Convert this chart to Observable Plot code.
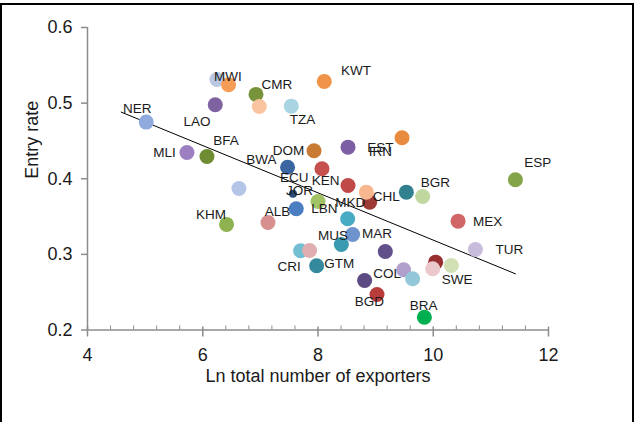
<!DOCTYPE html>
<html>
<head>
<meta charset="utf-8">
<script src="https://cdn.jsdelivr.net/npm/d3@7"></script>
<script src="https://cdn.jsdelivr.net/npm/@observablehq/plot@0.6"></script>
<style>
  html, body { margin: 0; padding: 0; background: #fff; width: 637px; height: 422px; overflow: hidden; }
  #frame { position: absolute; left: 0; top: 3px; width: 634px; height: 480px; border: 2px solid #000; box-sizing: border-box; }
  #chart { position: absolute; left: 0; top: 0; }
</style>
</head>
<body>
<div id="frame"></div>
<div id="chart"></div>
<script>
// Scatter points (ln total number of exporters, entry rate, colour)
const pointX = [6.246, 6.448, 6.924, 6.981, 6.217, 5.019, 5.726, 6.073, 6.628, 8.109,
                7.536, 9.458, 8.521, 7.931, 7.472, 8.069, 8.521, 8.896, 8.839, 9.533,
                9.816, 7.566, 8.000, 7.623, 6.413, 7.132, 8.514, 8.405, 8.601, 7.698,
                7.854, 7.976, 8.809, 9.168, 9.486, 9.642, 10.042, 9.990, 10.314, 10.731,
                9.024, 9.846, 11.426, 10.431];
const pointY = [0.5313, 0.5243, 0.5115, 0.4956, 0.4979, 0.4749, 0.4348, 0.4295, 0.3872, 0.5287,
                0.4960, 0.4542, 0.4418, 0.4370, 0.4153, 0.4132, 0.3911, 0.3690, 0.3823, 0.3823,
                0.3766, 0.3802, 0.3700, 0.3603, 0.3396, 0.3422, 0.3471, 0.3131, 0.3263, 0.3048,
                0.3052, 0.2849, 0.2655, 0.3038, 0.2796, 0.2677, 0.2897, 0.2810, 0.2853, 0.3065,
                0.2470, 0.2169, 0.3987, 0.3439];
const pointColor = ["#b9c7e2", "#f59d56", "#77933c", "#fbc4a0", "#7f62a0", "#8faadc", "#9b7fc0", "#6e8c31", "#b4c6e7", "#f0944a",
                    "#a9d4e2", "#e98b3f", "#7c5ea4", "#c97a33", "#3b65a0", "#c5504e", "#bf4a47", "#9e3a36", "#f9b78f", "#31808f",
                    "#c1d7a0", "#2b4d7a", "#a2c266", "#4a7ec0", "#8db24f", "#d8908f", "#48abc4", "#3a9bb0", "#6f93cc", "#72bfd2",
                    "#e0aeb0", "#348a9c", "#5c4b82", "#62508a", "#b1a0cc", "#93c8da", "#972f2e", "#eac8cb", "#d1e0b5", "#c7bcdc",
                    "#b83c3a", "#00b050", "#84a44a", "#d06766"];
const smallPointIndex = 21; // the small JOR marker

// Data labels (text and anchor point in data units)
const labelText = ["NER", "MWI", "CMR", "KWT", "LAO", "TZA", "BFA", "MLI", "BWA", "DOM",
                   "EST", "IRN", "ECU", "KEN", "JOR", "BGR", "ESP", "CHL", "KHM", "ALB",
                   "LBN", "MKD", "MEX", "MUS", "MAR", "TUR", "CRI", "GTM", "COL", "SWE",
                   "BGD", "BRA"];
const labelX = [4.865, 6.438, 7.285, 8.660, 5.899, 7.733, 6.403, 5.337, 7.016, 7.490,
                9.082, 9.082, 7.589, 8.132, 7.681, 10.036, 11.813, 9.186, 6.142, 7.299,
                8.109, 8.561, 10.944, 8.260, 9.024, 11.321, 7.497, 8.370, 9.198, 10.413,
                8.891, 9.833];
const labelY = [0.4930, 0.5353, 0.5243, 0.5423, 0.4749, 0.4780, 0.4497, 0.4348, 0.4251, 0.4365,
                0.4410, 0.4352, 0.4013, 0.3978, 0.3836, 0.3947, 0.4206, 0.3766, 0.3528, 0.3564,
                0.3603, 0.3687, 0.3435, 0.3246, 0.3280, 0.3061, 0.2844, 0.2876, 0.2743, 0.2664,
                0.2377, 0.2324];

// Linear trend line end points
const trendX = [4.585, 11.426];
const trendY = [0.4881, 0.2743];

// Axis ticks
const xMajorTicks = [4, 6, 8, 10, 12];
const xMinorTicks = [4.4, 4.8, 5.2, 5.6, 6.4, 6.8, 7.2, 7.6, 8.4, 8.8, 9.2, 9.6, 10.4, 10.8, 11.2, 11.6];
const yTicks = [0.2, 0.3, 0.4, 0.5, 0.6];

const points = pointX.map((x, i) => ({x, y: pointY[i], color: pointColor[i], small: i === smallPointIndex}));
const labels = labelText.map((t, i) => ({text: t, x: labelX[i], y: labelY[i]}));
const trend = trendX.map((x, i) => ({x, y: trendY[i]}));

const axisGray = "#8c8c8c";
const chart = Plot.plot({
  width: 637,
  height: 422,
  marginLeft: 87,
  marginRight: 89,
  marginTop: 27,
  marginBottom: 92.5,
  x: {domain: [4, 12]},
  y: {domain: [0.2, 0.6]},
  r: {type: "identity"},
  style: {fontFamily: "'Liberation Sans', Arial, sans-serif", background: "transparent", overflow: "visible"},
  marks: [
    Plot.ruleX([4], {stroke: axisGray, strokeWidth: 1.5}),
    Plot.ruleY([0.2], {stroke: axisGray, strokeWidth: 1.5}),
    Plot.ruleX(xMinorTicks, {x: d => d, y1: 0.2, y2: 0.2, insetTop: -4, stroke: axisGray, strokeWidth: 1}),
    Plot.ruleX(xMajorTicks, {x: d => d, y1: 0.2, y2: 0.2, insetTop: -3, insetBottom: -7, stroke: axisGray, strokeWidth: 1.5}),
    Plot.axisY({ticks: yTicks, tickFormat: d3.format(".1f"), tickSize: 6, tickPadding: 9, fontSize: 18, stroke: axisGray, fill: "#1a1a1a", strokeWidth: 1.5, label: null}),
    Plot.axisX({ticks: xMajorTicks, tickSize: 0, tickPadding: 18, fontSize: 18, fill: "#1a1a1a", label: null}),
    Plot.text(["Ln total number of exporters"], {frameAnchor: "bottom", dy: 52, text: d => d, fontSize: 18, fill: "#1a1a1a"}),
    Plot.text(["Entry rate"], {frameAnchor: "left", dx: -55, rotate: -90, text: d => d, fontSize: 18, fill: "#1a1a1a"}),
    Plot.line(trend, {x: "x", y: "y", stroke: "#000", strokeWidth: 1}),
    Plot.dot(points, {x: "x", y: "y", r: d => d.small ? 4 : 7.5, fill: "color", stroke: "none"}),
    Plot.text(labels, {x: "x", y: "y", text: "text", fontSize: 13.5, fill: "#1a1a1a"})
  ]
});
document.getElementById("chart").appendChild(chart);
</script>
</body>
</html>
